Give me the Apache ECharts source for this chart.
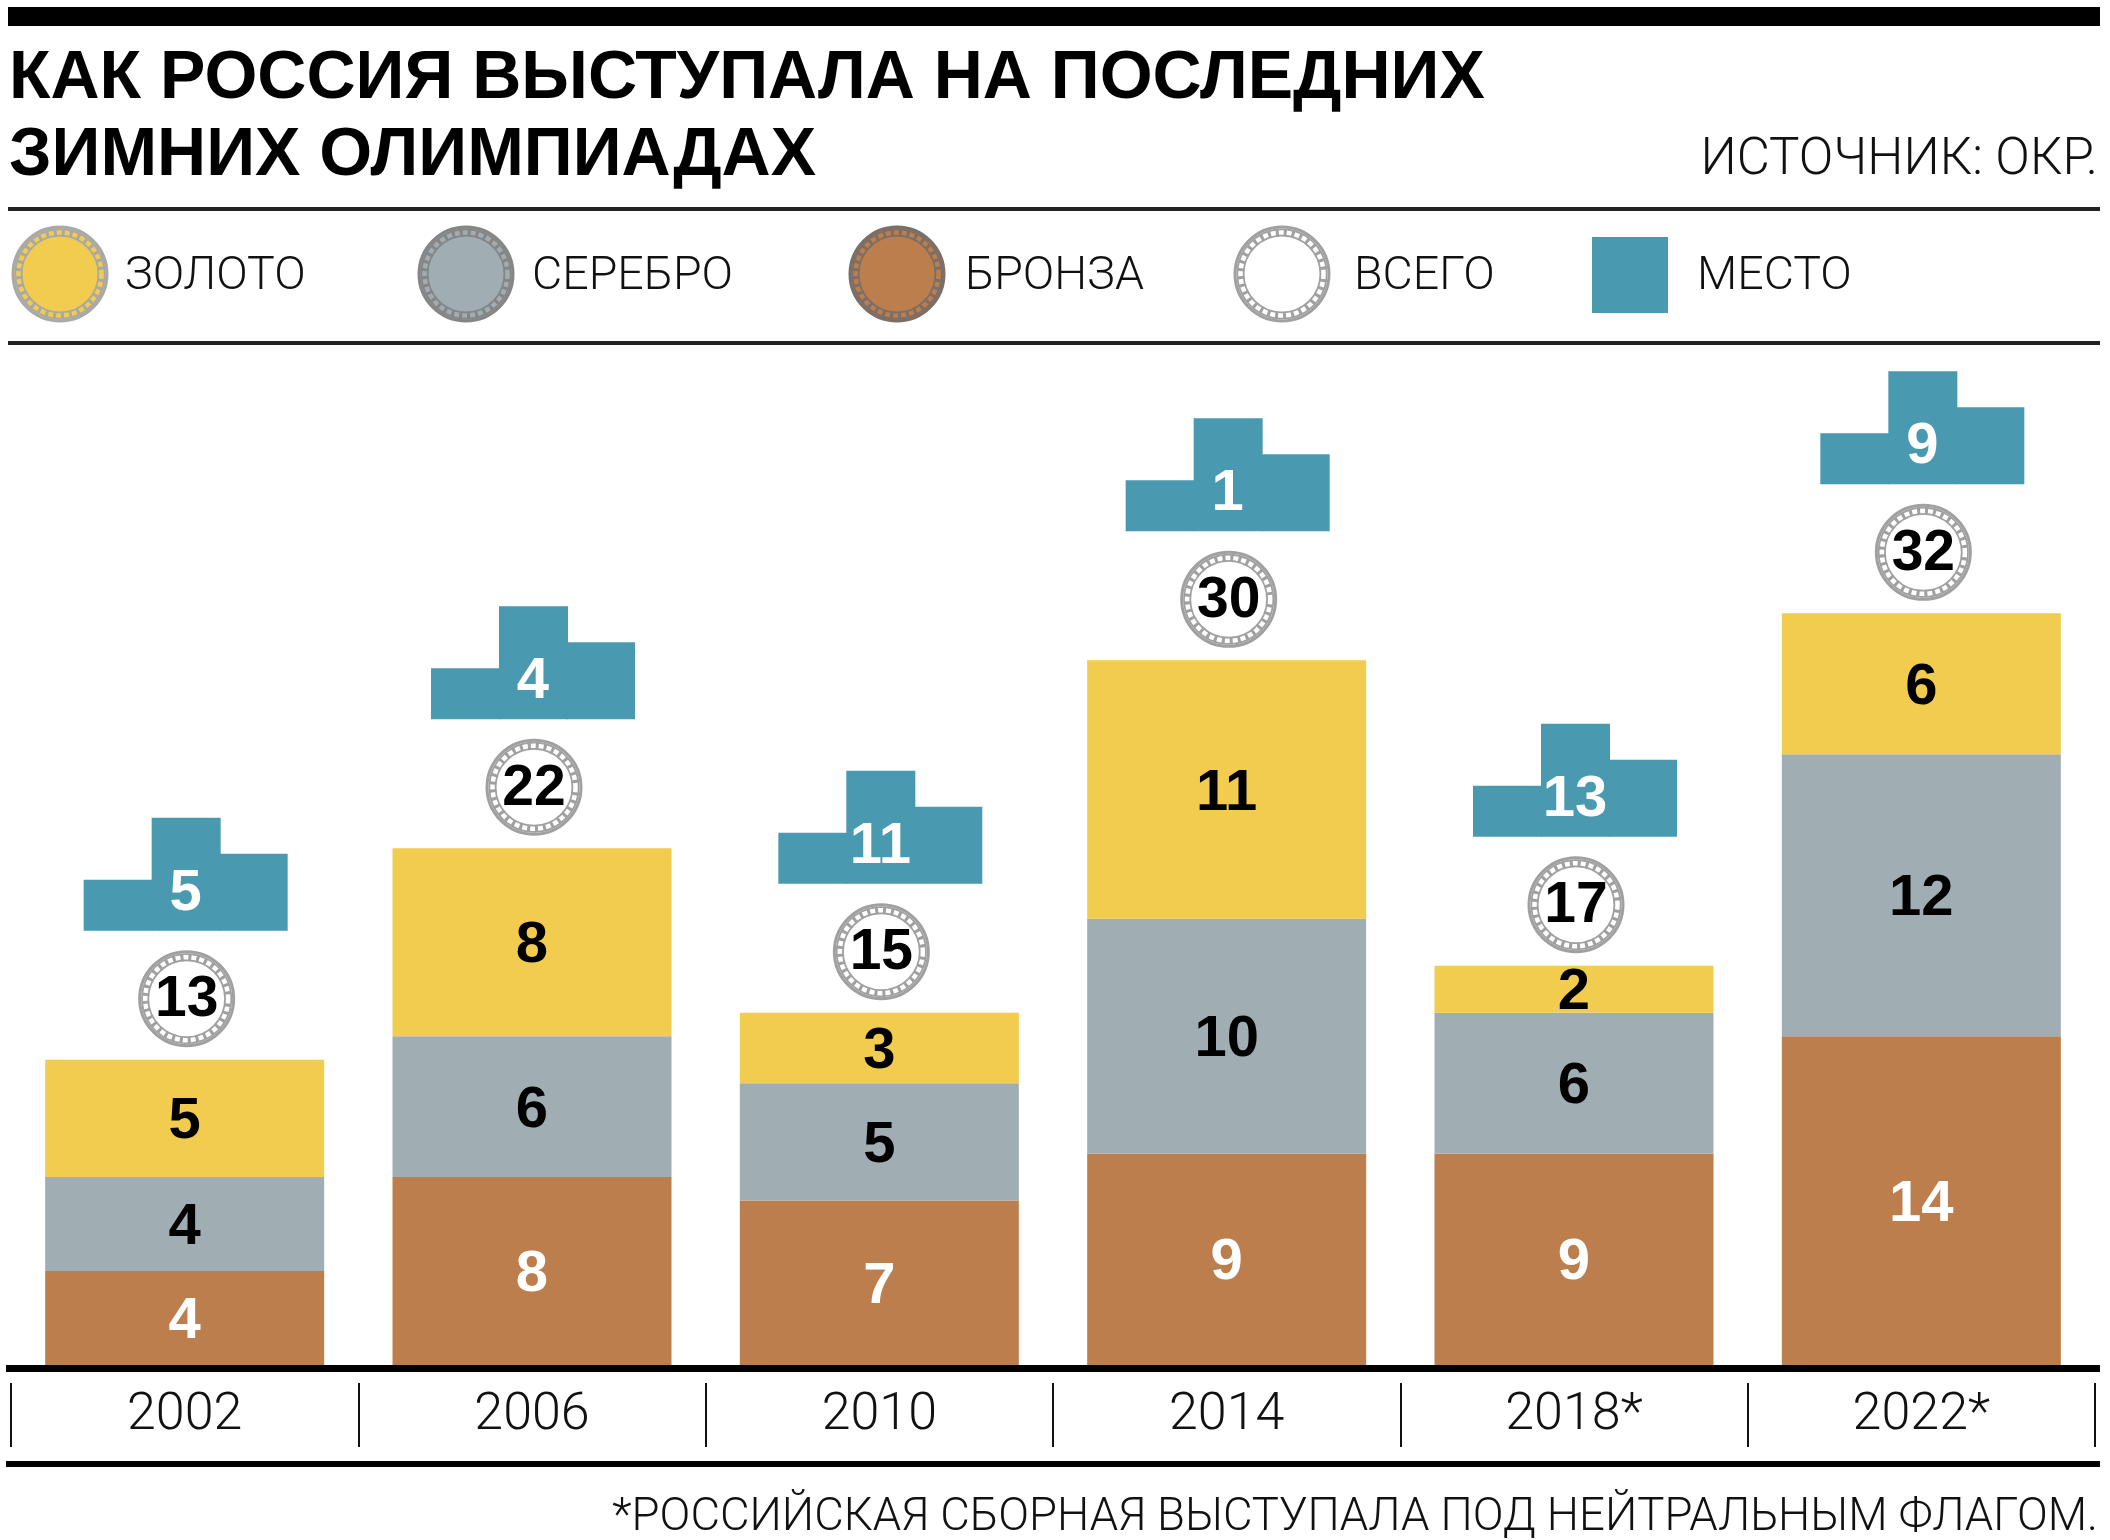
<!DOCTYPE html>
<html>
<head>
<meta charset="utf-8">
<script src="https://cdn.jsdelivr.net/npm/echarts@6/dist/echarts.min.js"></script>
<style>
html,body{margin:0;padding:0;background:#fff;}
#chart{width:2110px;height:1540px;}
</style>
</head>
<body>
<div id="chart"></div>
<script>
// ---- DATA ----
const years = ['2002', '2006', '2010', '2014', '2018*', '2022*'];
const gold = [5, 8, 3, 11, 2, 6];
const silver = [4, 6, 5, 10, 6, 12];
const bronze = [4, 8, 7, 9, 9, 14];
const totals = [13, 22, 15, 30, 17, 32];
const places = [5, 4, 11, 1, 13, 9];

const title1 = 'КАК РОССИЯ ВЫСТУПАЛА НА ПОСЛЕДНИХ';
const title2 = 'ЗИМНИХ ОЛИМПИАДАХ';
const sourceText = 'ИСТОЧНИК: ОКР.';
const footnote = '*РОССИЙСКАЯ СБОРНАЯ ВЫСТУПАЛА ПОД НЕЙТРАЛЬНЫМ ФЛАГОМ.';
const legendNames = ['ЗОЛОТО', 'СЕРЕБРО', 'БРОНЗА', 'ВСЕГО', 'МЕСТО'];

// ---- STYLE ----
const C_GOLD = '#F1CC4E', C_SILVER = '#A0AEB3', C_BRONZE = '#BD7E4E', C_TEAL = '#4999B0';
const BOLD = 'Liberation Sans, Arial, Helvetica, sans-serif';
const LIGHT = 'Roboto, Lato, Liberation Sans, sans-serif';

function coinShapes(cx, cy, fill, ring) {
  return [
    {type: 'circle', shape: {cx: cx, cy: cy, r: 47}, style: {fill: fill, stroke: ring, lineWidth: 3}},
    {type: 'circle', shape: {cx: cx, cy: cy, r: 41.5}, style: {fill: 'none', stroke: ring, lineWidth: 8}},
    {type: 'circle', shape: {cx: cx, cy: cy, r: 41.5}, style: {fill: 'none', stroke: fill, lineWidth: 4.5, lineDash: [5, 3]}}
  ];
}

const chart = echarts.init(document.getElementById('chart'), null, {renderer: 'canvas'});

const legendCoins = [
  {cx: 60, fill: C_GOLD, ring: '#A8A8A8', tx: 125},
  {cx: 466, fill: C_SILVER, ring: '#858585', tx: 532},
  {cx: 897, fill: C_BRONZE, ring: '#7A6E66', tx: 965},
  {cx: 1282, fill: '#FFFFFF', ring: '#A0A0A0', tx: 1354}
];
const graphics = [];
// rules
graphics.push({type: 'rect', shape: {x: 8, y: 7, width: 2092, height: 19}, style: {fill: '#000'}});
graphics.push({type: 'rect', shape: {x: 8, y: 207, width: 2092, height: 4}, style: {fill: '#222'}});
graphics.push({type: 'rect', shape: {x: 8, y: 341, width: 2092, height: 4}, style: {fill: '#222'}});
graphics.push({type: 'rect', shape: {x: 6, y: 1365, width: 2094, height: 7}, style: {fill: '#000'}});
graphics.push({type: 'rect', shape: {x: 6, y: 1461, width: 2094, height: 6}, style: {fill: '#000'}});
// titles
graphics.push({type: 'text', style: {text: title1, x: 9, y: 79, font: 'bold 68px ' + BOLD, fill: '#000', align: 'left', verticalAlign: 'middle'}});
graphics.push({type: 'text', style: {text: title2, x: 9, y: 156, font: 'bold 68px ' + BOLD, fill: '#000', align: 'left', verticalAlign: 'middle'}});
graphics.push({type: 'text', style: {text: sourceText, x: 2098, y: 161, font: '300 51px ' + LIGHT, fill: '#111', align: 'right', verticalAlign: 'middle'}});
graphics.push({type: 'text', style: {text: footnote, x: 2098, y: 1519, font: '300 45.5px ' + LIGHT, fill: '#111', align: 'right', verticalAlign: 'middle'}});
// legend
legendCoins.forEach(function (c, i) {
  coinShapes(c.cx, 274, c.fill, c.ring).forEach(function (s) { graphics.push(s); });
  graphics.push({type: 'text', style: {text: legendNames[i], x: c.tx, y: 277, font: '300 46.5px ' + LIGHT, fill: '#111', align: 'left', verticalAlign: 'middle'}});
});
graphics.push({type: 'rect', shape: {x: 1592, y: 237, width: 76, height: 76}, style: {fill: C_TEAL}});
graphics.push({type: 'text', style: {text: legendNames[4], x: 1697, y: 277, font: '300 46.5px ' + LIGHT, fill: '#111', align: 'left', verticalAlign: 'middle'}});

const barLabel = function (color) {
  return {show: true, position: 'inside', offset: [0, 4], color: color, fontSize: 58, fontWeight: 'bold', fontFamily: BOLD};
};

const coinData = totals.map(function (t, i) { return [i, t]; });
const podiumData = totals.map(function (t, i) { return [i, t, places[i]]; });

chart.setOption({
  animation: false,
  backgroundColor: '#fff',
  grid: {left: 11, right: 15, top: 355, bottom: 175, containLabel: false},
  xAxis: [
    {type: 'category', data: years, axisLine: {show: false}, axisTick: {show: false},
     axisLabel: {fontSize: 52, fontWeight: 300, fontFamily: LIGHT, color: '#111', margin: 51, verticalAlign: 'middle'}},
    {type: 'category', data: years, position: 'bottom', offset: 18, axisLine: {show: false},
     axisTick: {show: true, length: 64, interval: 0, alignWithLabel: false, lineStyle: {color: '#111', width: 2}},
     axisLabel: {show: false}}
  ],
  yAxis: {type: 'value', min: 0, max: 43, show: false},
  graphic: graphics,
  series: [
    {name: 'БРОНЗА', type: 'bar', stack: 'm', data: bronze, barWidth: 279, itemStyle: {color: C_BRONZE}, label: barLabel('#fff')},
    {name: 'СЕРЕБРО', type: 'bar', stack: 'm', data: silver, barWidth: 279, itemStyle: {color: C_SILVER}, label: barLabel('#000')},
    {name: 'ЗОЛОТО', type: 'bar', stack: 'm', data: gold, barWidth: 279, itemStyle: {color: C_GOLD}, label: barLabel('#000')},
    {
      name: 'ВСЕГО', type: 'custom', data: coinData, clip: false, z: 5,
      encode: {x: 0, y: 1},
      renderItem: function (params, api) {
        const p = api.coord([api.value(0), api.value(1)]);
        const cx = p[0] + 2, cy = p[1] - 61;
        const children = coinShapes(cx, cy, '#FFFFFF', '#A0A0A0');
        children.push({type: 'text', style: {text: String(api.value(1)), x: cx, y: cy + 2, font: 'bold 57px ' + BOLD, fill: '#000', align: 'center', verticalAlign: 'middle'}});
        return {type: 'group', children: children};
      }
    },
    {
      name: 'МЕСТО', type: 'custom', data: podiumData, clip: false, z: 5,
      encode: {x: 0, y: 1},
      renderItem: function (params, api) {
        const p = api.coord([api.value(0), api.value(1)]);
        const cx = p[0] + 1, base = p[1] - 129;
        return {type: 'group', children: [
          {type: 'rect', shape: {x: cx - 102, y: base - 51, width: 69, height: 51}, style: {fill: C_TEAL}},
          {type: 'rect', shape: {x: cx - 34, y: base - 113, width: 69, height: 113}, style: {fill: C_TEAL}},
          {type: 'rect', shape: {x: cx + 34, y: base - 77, width: 68, height: 77}, style: {fill: C_TEAL}},
          {type: 'text', style: {text: String(api.value(2)), x: cx, y: base - 37, font: 'bold 58px ' + BOLD, fill: '#fff', align: 'center', verticalAlign: 'middle'}}
        ]};
      }
    }
  ]
});
</script>
</body>
</html>
